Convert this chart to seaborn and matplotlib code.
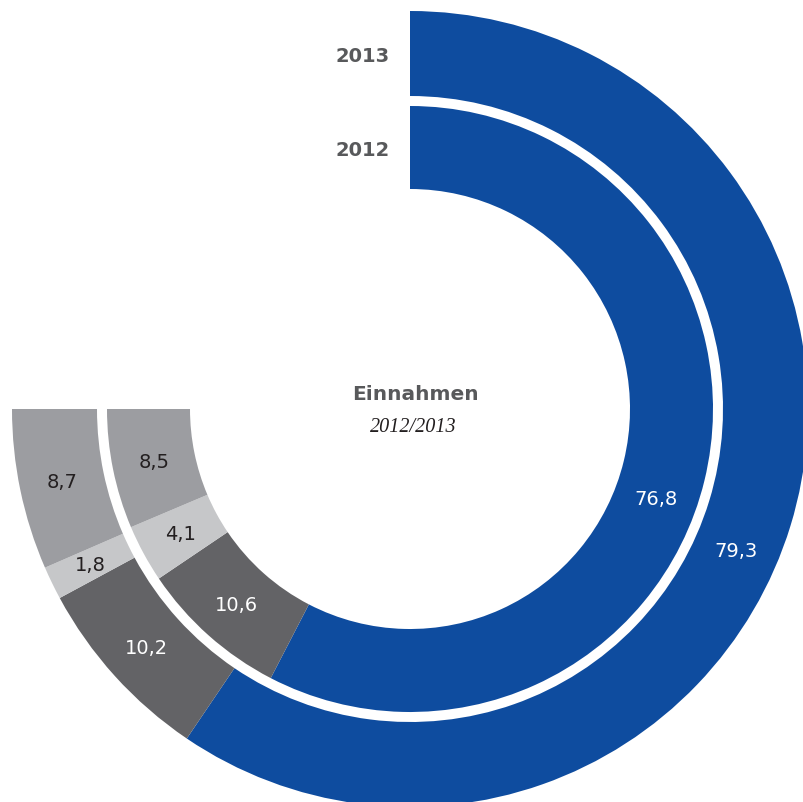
import numpy as np
import matplotlib
matplotlib.use("Agg")
import matplotlib.pyplot as plt
import seaborn as sns

# Revenue shares (%) per year, drawn as a 270-degree radial stacked bar
years = ["2013", "2012"]
values_2013 = [79.3, 10.2, 1.8, 8.7]
values_2012 = [76.8, 10.6, 4.1, 8.5]
labels_2013 = ["79,3", "10,2", "1,8", "8,7"]
labels_2012 = ["76,8", "10,6", "4,1", "8,5"]
title = "Einnahmen"
subtitle = "2012/2013"

sns.set_theme(style="white")
plt.rcParams["font.family"] = ["DejaVu Sans"]

colors = ["#0e4c9f", "#636366", "#c6c7c9", "#9c9da1"]
text_colors = ["white", "white", "#231f20", "#231f20"]

SPAN = 1.5 * np.pi          # 100 % covers three quarters of the circle
R_MAX = 400
rings = {                   # (inner radius, outer radius) in pixels
    "2013": (313, 398),
    "2012": (220, 303),
}

fig = plt.figure(figsize=(8.04, 8.03), dpi=100)
ax = fig.add_axes([10 / 804, -7 / 803, 800 / 804, 800 / 803], projection="polar")
ax.set_theta_zero_location("N")
ax.set_theta_direction(-1)
ax.set_rlim(0, R_MAX)
ax.set_axis_off()

for year, vals, labs in zip(years, [values_2013, values_2012], [labels_2013, labels_2012]):
    r_in, r_out = rings[year]
    vals = np.asarray(vals)
    widths = vals / 100 * SPAN
    starts = np.concatenate([[0], np.cumsum(widths)[:-1]])
    ax.bar(starts, r_out - r_in, width=widths, bottom=r_in, align="edge",
           color=colors, edgecolor="none", linewidth=0)
    r_mid = (r_in + r_out) / 2
    for i, (s, w, lab) in enumerate(zip(starts, widths, labs)):
        # the long first segment carries its label a bit past its middle
        ang = s + w * (0.53 if i == 0 else 0.5)
        ax.text(ang, r_mid, lab, ha="center", va="center",
                color=text_colors[i], fontsize=14)
    ax.annotate(year, xy=(0, r_mid), xytext=(-20, -2), textcoords="offset pixels",
                ha="right", va="center", fontsize=14, fontweight="bold",
                color="#58595b")

fig.text(415 / 804, 1 - 395 / 803, title, ha="center", va="center",
         fontsize=14.5, fontweight="bold", color="#58595b")
fig.text(413 / 804, 1 - 428 / 803, subtitle, ha="center", va="center",
         fontsize=14.5, fontstyle="italic", color="#231f20",
         family=["Liberation Serif", "DejaVu Serif"])

fig.savefig("out.png", dpi=100)
